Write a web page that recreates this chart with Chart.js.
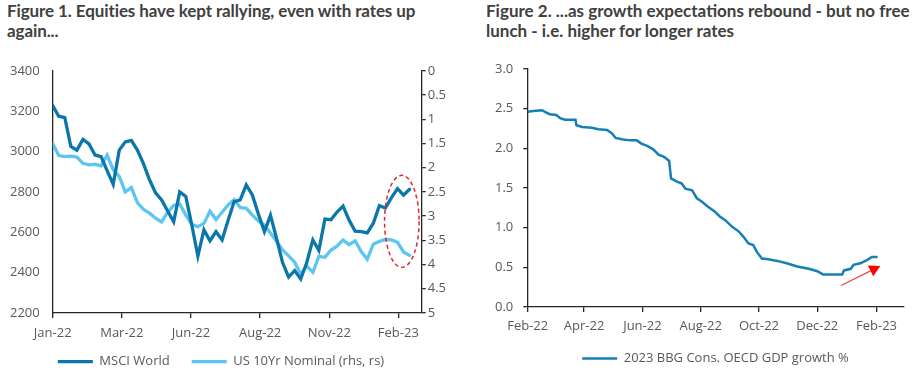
<!DOCTYPE html>
<html>
<head>
<meta charset="utf-8">
<script src="https://cdn.jsdelivr.net/npm/chart.js@4"></script>
<style>
  html, body { margin: 0; padding: 0; background: #fff; width: 922px; height: 374px; overflow: hidden; }
  .title { position: absolute; top: 1px; font-family: Lato, sans-serif; font-weight: 700; font-size: 17px; line-height: 20px; color: #404040; white-space: nowrap; }
  #t1 { left: 7px; letter-spacing: -0.1px; }
  #t2 { left: 486px; }
  .box { position: absolute; top: 50px; }
  #b1 { left: 0; width: 460px; height: 338px; }
  #b2 { left: 460px; width: 462px; height: 325px; }
</style>
</head>
<body>
<div class="title" id="t1">Figure 1. Equities have kept rallying, even with rates up<br>again...</div>
<div class="title" id="t2">Figure 2. ...as growth expectations rebound - but no free<br>lunch - i.e. higher for longer rates</div>
<div class="box" id="b1"><canvas id="c1"></canvas></div>
<div class="box" id="b2"><canvas id="c2"></canvas></div>
<script>
// Figure 1: weekly
const weeks = [
  "2022-01-03","2022-01-10","2022-01-17","2022-01-24","2022-01-31","2022-02-07","2022-02-14","2022-02-21","2022-02-28",
  "2022-03-07","2022-03-14","2022-03-21","2022-03-28","2022-04-04","2022-04-11","2022-04-18","2022-04-25",
  "2022-05-02","2022-05-09","2022-05-16","2022-05-23","2022-05-30","2022-06-06","2022-06-13","2022-06-20","2022-06-27",
  "2022-07-04","2022-07-11","2022-07-18","2022-07-25","2022-08-01","2022-08-08","2022-08-15","2022-08-22","2022-08-29",
  "2022-09-05","2022-09-12","2022-09-19","2022-09-26","2022-10-03","2022-10-10","2022-10-17","2022-10-24","2022-10-31",
  "2022-11-07","2022-11-14","2022-11-21","2022-11-28","2022-12-05","2022-12-12","2022-12-19","2022-12-26",
  "2023-01-02","2023-01-09","2023-01-16","2023-01-23","2023-01-30","2023-02-06","2023-02-13","2023-02-20"
];
const msciWorld = [
  3228, 3175, 3168, 3025, 3007, 3060, 3038, 2983, 2975, 2905,
  2837, 3007, 3048, 3055, 3007, 2940, 2860, 2795, 2760, 2705,
  2652, 2800, 2778, 2635, 2482, 2612, 2558, 2603, 2562, 2660,
  2752, 2760, 2835, 2785, 2690, 2603, 2684, 2570, 2450, 2378,
  2410, 2368, 2450, 2562, 2510, 2665, 2662, 2700, 2730, 2660,
  2605, 2603, 2597, 2645, 2732, 2720, 2772, 2816, 2784, 2813
];
const us10y = [
  1.50, 1.75, 1.77, 1.76, 1.78, 1.91, 1.94, 1.93, 1.96, 1.74,
  2.04, 2.18, 2.50, 2.41, 2.72, 2.86, 2.94, 3.04, 3.12, 2.92,
  2.78, 2.75, 2.98, 3.17, 3.22, 3.15, 2.90, 3.07, 2.92, 2.77,
  2.66, 2.82, 2.84, 2.98, 3.10, 3.19, 3.35, 3.52, 3.70, 3.82,
  3.95, 4.20, 4.03, 4.16, 3.83, 3.85, 3.70, 3.62, 3.49, 3.59,
  3.51, 3.73, 3.89, 3.58, 3.52, 3.48, 3.49, 3.54, 3.74, 3.81
];
const tickDates1 = ["2022-01-03", "2022-03-24", "2022-06-12", "2022-08-31", "2022-11-19", "2023-02-07"];
const tickLabels1 = ["Jan-22", "Mar-22", "Jun-22", "Aug-22", "Nov-22", "Feb-23"];

// Figure 2: daily consensus, read at the steps
const gdpDates = [
  "2022-02-01","2022-02-07","2022-02-16","2022-02-19","2022-02-24","2022-03-03","2022-03-07","2022-03-12",
  "2022-03-23","2022-03-24","2022-03-30","2022-04-09","2022-04-16","2022-04-25","2022-04-30","2022-05-04",
  "2022-05-12","2022-05-19","2022-05-26","2022-05-31","2022-06-06","2022-06-12","2022-06-18","2022-06-24",
  "2022-06-29","2022-07-01","2022-07-07","2022-07-12","2022-07-16","2022-07-23","2022-07-28","2022-08-02",
  "2022-08-09","2022-08-16","2022-08-21","2022-08-27","2022-09-03","2022-09-10","2022-09-15","2022-09-20",
  "2022-09-25","2022-09-29","2022-10-04","2022-10-11","2022-10-20","2022-10-30","2022-11-10","2022-11-22",
  "2022-12-01","2022-12-07","2022-12-27","2022-12-29","2023-01-05","2023-01-08","2023-01-15","2023-01-22",
  "2023-01-27","2023-02-01"
];
const gdpGrowth = [
  2.46, 2.47, 2.48, 2.46, 2.43, 2.42, 2.38, 2.36,
  2.36, 2.29, 2.27, 2.26, 2.24, 2.23, 2.19, 2.13,
  2.11, 2.10, 2.10, 2.06, 2.03, 1.99, 1.92, 1.89,
  1.84, 1.62, 1.58, 1.56, 1.49, 1.47, 1.37, 1.33,
  1.26, 1.20, 1.14, 1.09, 1.01, 0.95, 0.88, 0.80,
  0.78, 0.69, 0.61, 0.60, 0.58, 0.55, 0.51, 0.48,
  0.45, 0.41, 0.41, 0.46, 0.48, 0.53, 0.55, 0.59,
  0.63, 0.63
];
const tickDates2 = ["2022-02-01", "2022-04-01", "2022-06-01", "2022-08-01", "2022-10-01", "2022-12-01", "2023-02-01"];
const tickLabels2 = ["Feb-22", "Apr-22", "Jun-22", "Aug-22", "Oct-22", "Dec-22", "Feb-23"];

const DARK = "#0b77a9";
const LIGHT = "#5cc6f0";
const GDP = "#1580b6";
const AXIS = "#262626";
const TXT = "#595959";

const dayOf = (s, origin) => (Date.parse(s) - Date.parse(origin)) / 864e5;
const ORIGIN1 = weeks[0];
const ORIGIN2 = gdpDates[0];

Chart.defaults.font.family = "'Open Sans', sans-serif";
Chart.defaults.font.size = 13;
Chart.defaults.color = TXT;

const legendOpts = (pad, full) => ({
  position: "bottom",
  fullSize: full,
  labels: { usePointStyle: true, pointStyle: "line", pointStyleWidth: 35, padding: pad, color: TXT, font: { size: 13 } }
});

// red dashed circle around the latest weeks
const ellipse = {
  id: "ellipse",
  afterDatasetsDraw(chart) {
    const { ctx, scales: { x, y } } = chart;
    const cx = x.getPixelForValue(dayOf("2023-02-11", ORIGIN1));
    const cy = y.getPixelForValue(2654);
    const rx = Math.abs(x.getPixelForValue(dayOf("2023-03-03", ORIGIN1)) - cx);
    const ry = Math.abs(y.getPixelForValue(2654 + 228) - cy);
    ctx.save();
    ctx.strokeStyle = "#e3262a";
    ctx.lineWidth = 1.5;
    ctx.setLineDash([4, 3]);
    ctx.beginPath();
    ctx.ellipse(cx, cy, rx, ry, 0, 0, Math.PI * 2);
    ctx.stroke();
    ctx.restore();
  }
};

// nudge the legend left and up, as in the original
const legendShift = {
  id: "legendShift",
  afterLayout(chart) {
    const l = chart.legend;
    l.left -= 9;
    l.right -= 9;
    l.top -= 9.8;
    l.bottom -= 9.8;
  }
};

// red arrow under the rebound
const arrow = {
  id: "arrow",
  afterDatasetsDraw(chart) {
    const { ctx, scales: { x, y } } = chart;
    const x0 = x.getPixelForValue(dayOf("2022-12-26", ORIGIN2)), y0 = y.getPixelForValue(0.27);
    const x1 = x.getPixelForValue(dayOf("2023-02-05", ORIGIN2)), y1 = y.getPixelForValue(0.515);
    const a = Math.atan2(y1 - y0, x1 - x0);
    const len = 11, half = 6;
    const bx = x1 - len * Math.cos(a), by = y1 - len * Math.sin(a);
    ctx.save();
    ctx.strokeStyle = "#f04848";
    ctx.lineWidth = 1.3;
    ctx.beginPath();
    ctx.moveTo(x0, y0);
    ctx.lineTo(bx, by);
    ctx.stroke();
    ctx.fillStyle = "#ff0000";
    ctx.beginPath();
    ctx.moveTo(x1, y1);
    ctx.lineTo(bx + half * Math.sin(a), by - half * Math.cos(a));
    ctx.lineTo(bx - half * Math.sin(a), by + half * Math.cos(a));
    ctx.closePath();
    ctx.fill();
    ctx.restore();
  }
};

new Chart(document.getElementById("c1"), {
  type: "line",
  data: {
    datasets: [
      {
        label: "MSCI World",
        data: weeks.map((d, i) => ({ x: dayOf(d, ORIGIN1), y: msciWorld[i] })),
        borderColor: DARK, backgroundColor: DARK, borderWidth: 3.3, borderCapStyle: "round",
        pointRadius: 0, tension: 0, yAxisID: "y"
      },
      {
        label: "US 10Yr Nominal (rhs, rs)",
        data: weeks.map((d, i) => ({ x: dayOf(d, ORIGIN1), y: us10y[i] })),
        borderColor: LIGHT, backgroundColor: LIGHT, borderWidth: 3.3, borderCapStyle: "round",
        pointRadius: 0, tension: 0, yAxisID: "y2"
      }
    ]
  },
  options: {
    animation: false,
    responsive: true,
    maintainAspectRatio: false,
    layout: { padding: { top: 15.7, left: 0, right: 0, bottom: 0 } },
    plugins: { legend: legendOpts(22, true), tooltip: { enabled: false } },
    scales: {
      x: {
        type: "linear",
        min: 0,
        max: dayOf("2023-03-06", ORIGIN1),
        afterBuildTicks: s => { s.ticks = tickDates1.map(d => ({ value: dayOf(d, ORIGIN1) })); },
        afterFit: s => { s.height = 30; },
        ticks: { callback: (v, i) => tickLabels1[i], padding: 7, maxRotation: 0, autoSkip: false, color: TXT },
        grid: { drawOnChartArea: false, tickLength: 5, color: AXIS, lineWidth: 1.3 },
        border: { color: AXIS, width: 1.3 }
      },
      y: {
        position: "left",
        min: 2200,
        max: 3400,
        afterFit: s => { s.width = 52.7; },
        ticks: { stepSize: 200, padding: 13, callback: v => v, color: TXT },
        grid: { drawOnChartArea: false, drawTicks: false },
        border: { color: AXIS, width: 1.3 }
      },
      y2: {
        position: "right",
        min: 0,
        max: 5,
        reverse: true,
        afterFit: s => { s.width = 38.3; },
        ticks: { stepSize: 0.5, padding: 2, callback: v => String(v), color: TXT },
        grid: { drawOnChartArea: false, tickLength: 4, color: AXIS, lineWidth: 1.3 },
        border: { color: AXIS, width: 1.3 }
      }
    }
  },
  plugins: [ellipse, legendShift]
});

new Chart(document.getElementById("c2"), {
  type: "line",
  data: {
    datasets: [
      {
        label: "2023 BBG Cons. OECD GDP growth %",
        data: gdpDates.map((d, i) => ({ x: dayOf(d, ORIGIN2), y: gdpGrowth[i] })),
        borderColor: GDP, backgroundColor: GDP, borderWidth: 2.5, borderCapStyle: "round",
        pointRadius: 0, tension: 0
      }
    ]
  },
  options: {
    animation: false,
    responsive: true,
    maintainAspectRatio: false,
    layout: { padding: { top: 19, left: 0, right: 18.7, bottom: 0 } },
    plugins: { legend: legendOpts(10, false), tooltip: { enabled: false } },
    scales: {
      x: {
        type: "linear",
        min: 0,
        max: dayOf("2023-03-01", ORIGIN2),
        afterBuildTicks: s => { s.ticks = tickDates2.map(d => ({ value: dayOf(d, ORIGIN2) })); },
        afterFit: s => { s.height = 35.1; },
        ticks: { callback: (v, i) => tickLabels2[i], padding: 7, maxRotation: 0, autoSkip: false, color: TXT },
        grid: { drawOnChartArea: false, tickLength: 5, color: AXIS, lineWidth: 1.3 },
        border: { color: AXIS, width: 1.3 }
      },
      y: {
        min: 0,
        max: 3,
        afterFit: s => { s.width = 67.7; },
        ticks: { stepSize: 0.5, padding: 10, callback: v => v.toFixed(1), color: TXT },
        grid: { drawOnChartArea: false, tickLength: 4.4, color: AXIS, lineWidth: 1.3 },
        border: { color: AXIS, width: 1.3 }
      }
    }
  },
  plugins: [arrow]
});
</script>
</body>
</html>
